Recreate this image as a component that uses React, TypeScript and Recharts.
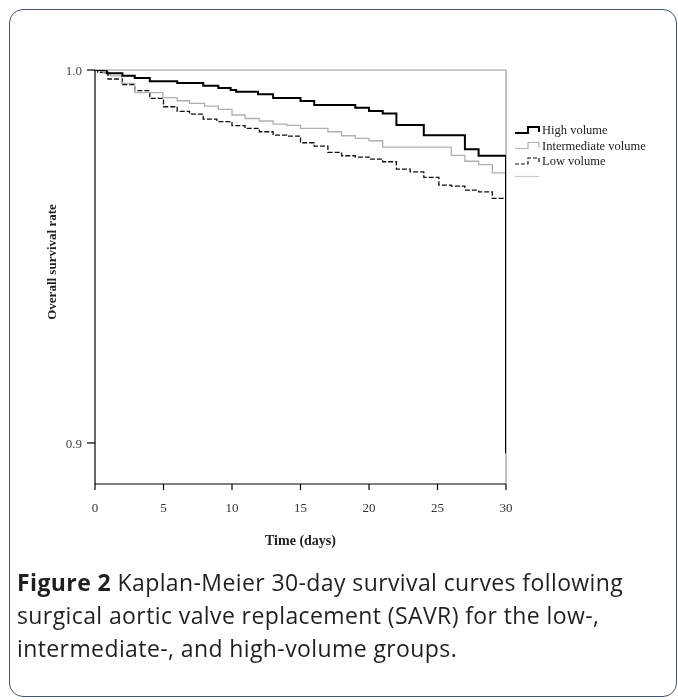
import React from "react";
import { LineChart, Line, XAxis, YAxis, ReferenceLine, Label } from "recharts";

// ---- data (days, survival) ----
const xTicks = [0, 5, 10, 15, 20, 25, 30];
const yTicks = [0.9, 1.0];

const highDays = [0, 0.85, 2, 2.9, 4, 6, 7.9, 9, 9.9, 10.3, 11.9, 13, 15, 16, 19, 20, 21, 22, 24, 27, 28, 30];
const highSurv = [1.0, 0.99911, 0.99847, 0.99785, 0.99697, 0.99651, 0.99579, 0.99517, 0.99463, 0.99418, 0.99348, 0.9925, 0.99168, 0.99061, 0.98988, 0.989, 0.98833, 0.98524, 0.98248, 0.97875, 0.97698, 0.89724];

const interDays = [0, 0.6, 1.1, 1.95, 2.9, 4.95, 6, 6.9, 8, 9, 10, 10.95, 12, 13, 14, 15, 17, 18, 19, 20, 21, 26, 27, 28, 29, 30];
const interSurv = [1.0, 0.9992, 0.9984, 0.99643, 0.99391, 0.99257, 0.99176, 0.99107, 0.99034, 0.98946, 0.98793, 0.98699, 0.98632, 0.98551, 0.98515, 0.98436, 0.98345, 0.98237, 0.98167, 0.98103, 0.97934, 0.97711, 0.97553, 0.97464, 0.97244, 0.97244];

const lowDays = [0, 0.2, 0.95, 2, 2.9, 4, 5, 6, 6.9, 7.9, 8.9, 10, 10.95, 12, 13, 14, 15, 16, 17, 18, 19, 20, 21, 22, 23, 24, 25.1, 26, 27, 28, 29, 30];
const lowSurv = [1.0, 0.9994, 0.99759, 0.99606, 0.99445, 0.99241, 0.99015, 0.98892, 0.98819, 0.98685, 0.98618, 0.98506, 0.98436, 0.98345, 0.98256, 0.98229, 0.98049, 0.97961, 0.97792, 0.97701, 0.97666, 0.97612, 0.9754, 0.97344, 0.97271, 0.97121, 0.96914, 0.96888, 0.9678, 0.96735, 0.96558, 0.96558];

const seriesNames = ["High volume", "Intermediate volume", "Low volume"];

const toRows = (days: number[], vals: number[]) => days.map((t, i) => ({ t, s: vals[i] }));
const highData = toRows(highDays, highSurv);
const interData = toRows(interDays, interSurv);
const lowData = toRows(lowDays, lowSurv);

const SERIF = "'Liberation Serif', 'Times New Roman', serif";

const legendStyles = [
  { stroke: "#000", width: 2, dash: undefined as string | undefined },
  { stroke: "#b0b0b0", width: 1.2, dash: undefined as string | undefined },
  { stroke: "#111", width: 1.2, dash: "4 2" },
];

const LegendBox = () => (
  <svg width={160} height={70} style={{ overflow: "visible", display: "block" }}>
    {seriesNames.map((name, i) => {
      const st = legendStyles[i];
      const y = 8 + i * 15.5;
      return (
        <g key={name}>
          <path
            d={`M0,${y + 3} H13 V${y - 3} H24 V${y + 2}`}
            fill="none"
            stroke={st.stroke}
            strokeWidth={st.width}
            strokeDasharray={st.dash}
          />
          <text x={27} y={y + 4} fontFamily={SERIF} fontSize={12.5} fill="#222">
            {name}
          </text>
        </g>
      );
    })}
    <line x1={0} x2={24} y1={8 + 3 * 15.5} y2={8 + 3 * 15.5} stroke="#c8c8c8" strokeWidth={1.2} />
  </svg>
);

export default function App() {
  return (
    <div style={{ position: "relative", width: 660, height: 680 }}>
      <style>{`html, body { overflow: hidden; }`}</style>
      <div
        style={{
          position: "fixed",
          left: 9,
          top: 9,
          width: 668,
          height: 688,
          boxSizing: "border-box",
          border: "1.5px solid #3d5675",
          borderRadius: 14,
        }}
      />
      <div style={{ position: "absolute", left: 0, top: 0 }}>
        <LineChart
          width={660}
          height={560}
          margin={{ top: 62, left: 47, right: 162, bottom: 54 }}
        >
          <XAxis
            type="number"
            dataKey="t"
            domain={[0, 30]}
            ticks={xTicks}
            allowDataOverflow
            height={30}
            axisLine={{ stroke: "#000", strokeWidth: 1.2 }}
            tickLine={{ stroke: "#000", strokeWidth: 1.2 }}
            tickSize={6}
            tickMargin={13}
            tick={{ fontFamily: SERIF, fontSize: 13, fill: "#333" }}
          >
            <Label
              content={(props: any) => {
                const vb = props.viewBox || {};
                return (
                  <text
                    x={vb.x + vb.width / 2}
                    y={vb.y + 61}
                    textAnchor="middle"
                    fontFamily={SERIF}
                    fontWeight="bold"
                    fontSize={14}
                    fill="#222"
                  >
                    Time (days)
                  </text>
                );
              }}
            />
          </XAxis>
          <YAxis
            type="number"
            domain={[0.889, 1.0]}
            ticks={yTicks}
            allowDataOverflow
            width={40}
            axisLine={{ stroke: "#000", strokeWidth: 1.2 }}
            tickLine={{ stroke: "#000", strokeWidth: 1.2 }}
            tickSize={8}
            tickMargin={5}
            tickFormatter={(v: number) => v.toFixed(1)}
            tick={{ fontFamily: SERIF, fontSize: 13, fill: "#444" }}
          >
            <Label
              content={(props: any) => {
                const vb = props.viewBox || {};
                const cx = vb.x - 4;
                const cy = vb.y + vb.height / 2 - 15;
                return (
                  <text
                    x={cx}
                    y={cy}
                    transform={`rotate(-90, ${cx}, ${cy})`}
                    textAnchor="middle"
                    dominantBaseline="central"
                    fontFamily={SERIF}
                    fontWeight="bold"
                    fontSize={13}
                    fill="#222"
                  >
                    Overall survival rate
                  </text>
                );
              }}
            />
          </YAxis>
          <ReferenceLine y={1.0} stroke="#9a9a9a" strokeWidth={1.2} ifOverflow="visible" />
          <ReferenceLine x={30} stroke="#9a9a9a" strokeWidth={1.2} ifOverflow="visible" />
          <Line
            data={lowData}
            dataKey="s"
            name={seriesNames[2]}
            type="stepAfter"
            stroke="#111"
            strokeWidth={1.3}
            strokeDasharray="5 2"
            dot={false}
            activeDot={false}
            isAnimationActive={false}
          />
          <Line
            data={interData}
            dataKey="s"
            name={seriesNames[1]}
            type="stepAfter"
            stroke="#b0b0b0"
            strokeWidth={1.3}
            dot={false}
            activeDot={false}
            isAnimationActive={false}
          />
          <Line
            data={highData}
            dataKey="s"
            name={seriesNames[0]}
            type="stepAfter"
            stroke="#000"
            strokeWidth={2}
            dot={false}
            activeDot={false}
            isAnimationActive={false}
          />
        </LineChart>
      </div>
      <div style={{ position: "absolute", left: 507, top: 114 }}>
        <LegendBox />
      </div>
      <div
        style={{
          position: "absolute",
          left: 9,
          top: 558,
          fontFamily: "'Open Sans', 'Noto Sans', sans-serif",
          fontSize: 23,
          letterSpacing: "0.4px",
          lineHeight: "33px",
          color: "#231f20",
          whiteSpace: "nowrap",
        }}
      >
        <b>Figure 2</b> Kaplan-Meier 30-day survival curves following
        <br />
        surgical aortic valve replacement (SAVR) for the low-,
        <br />
        intermediate-, and high-volume groups.
      </div>
    </div>
  );
}
